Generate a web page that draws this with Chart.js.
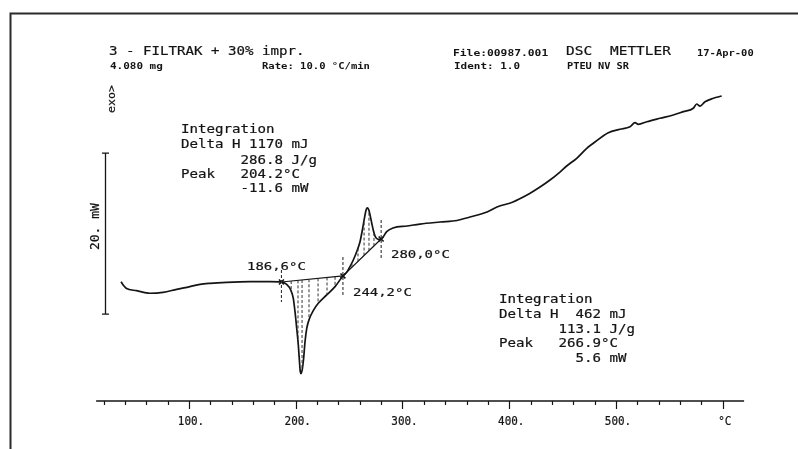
<!DOCTYPE html>
<html>
<head>
<meta charset="utf-8">
<script src="https://cdn.jsdelivr.net/npm/chart.js@4.4.1/dist/chart.umd.min.js"></script>
<style>
  html, body { margin: 0; padding: 0; background: #fff; }
  canvas { display: block; }
</style>
</head>
<body>
<canvas id="dsc" width="798" height="449"></canvas>
<script>
// DSC curve, temperature in degC, heat flow in mW (arbitrary zero)
const tempC = [36.3, 39.1, 41.1, 51.0, 63.5, 75.6, 88.5, 100.9, 110.3, 119.7, 135.3, 157.2, 175.9, 186.6,
  191.5, 195.3, 197.7, 199.3, 200.9, 202.4, 203.5, 204.2, 205.0, 206.2, 207.3, 208.7, 210.3, 212.7, 216.4,
  221.1, 229.0, 236.8, 244.2, 247.7, 250.8, 253.9, 257.7, 260.2, 262.4, 264.3, 265.6, 266.9, 268.3, 269.8,
  271.2, 272.7, 274.5, 277.3, 280.0, 285.2, 291.1, 304.3, 316.4, 335.2, 351.1, 363.2, 379.2, 388.5, 403.5,
  416.6, 428.8, 438.2, 447.5, 453.8, 463.2, 472.6, 478.7, 492.8, 503.7, 513.1, 517.8, 520.9, 528.8, 541.3,
  553.7, 563.0, 572.4, 575.6, 578.7, 583.4, 591.2, 599.0];
const heatFlow = [0.04, -0.5, -0.78, -1.08, -1.4, -1.28, -0.91, -0.58, -0.29, -0.16, -0.04, 0.04, 0.04, 0.0,
  -0.29, -0.99, -2.03, -3.69, -5.75, -7.83, -9.9, -11.1, -11.37, -10.8, -9.6, -7.4, -5.75, -4.6, -3.55,
  -2.65, -1.61, -0.58, 0.75, 1.2, 1.9, 2.73, 3.98, 5.0, 6.46, 7.9, 8.8, 9.2, 9.0, 8.2,
  7.3, 6.4, 5.63, 5.3, 5.34, 6.25, 6.71, 6.96, 7.2, 7.45, 7.64, 8.07, 8.7, 9.32, 9.94,
  10.8, 11.8, 12.67, 13.66, 14.41, 15.37, 16.61, 17.23, 18.55, 18.97, 19.29, 19.79, 19.59, 19.91, 20.34,
  20.75, 21.16, 21.58, 22.11, 21.86, 22.4, 22.82, 23.1];

// integration limits (onset / end points) and their baseline values
const limitT = [186.6, 244.2, 280.0];
const limitY = [0.0, 0.75, 5.34];
const limitTop = [1.49, 3.11, 7.7];
const limitBottom = [-2.48, -1.74, 2.98];

// hatching between baseline and curve
const hatchT = [195.7, 202.1, 205.9, 212.4, 220.9, 229.3, 236.8, 252.7, 258.3, 264.0, 268.6, 273.3];
const hatchBase = [0.12, 0.2, 0.25, 0.34, 0.45, 0.56, 0.65, 1.84, 2.56, 3.29, 3.88, 4.48];
const hatchCurve = [-1.16, -7.4, -11.0, -4.65, -2.68, -1.57, -0.58, 2.4, 4.2, 7.7, 8.85, 6.0];

// x axis
const majorTicks = [100, 200, 300, 400, 500, 600];
const tickLabels = ['100.', '200.', '300.', '400.', '500.', '\u00B0C'];
const scaleBarMw = [-4, 16];   // the "20. mW" bar

const black = '#141414';
const mono = '"DejaVu Sans Mono", "Liberation Mono", monospace';

// draw monospaced text with a given character pitch
function txt(c, s, x, y, size, pitch, bold, rot, align) {
  c.save();
  c.font = (bold ? 'bold ' : '') + size + 'px ' + mono;
  const nat = c.measureText('M').width;
  c.translate(x, y);
  if (rot) c.rotate(rot);
  c.scale(pitch / nat, 1);
  c.textAlign = align || 'left';
  c.fillStyle = black;
  c.fillText(s, 0, 0);
  if (!bold) {
    // plotter pens are a bit heavier than the font
    c.strokeStyle = black;
    c.lineWidth = 0.2;
    c.strokeText(s, 0, 0);
  }
  c.restore();
}

const paper = {
  id: 'paper',
  beforeDraw(chart) {
    const c = chart.ctx;
    c.save();
    c.fillStyle = '#fff';
    c.fillRect(0, 0, chart.width, chart.height);
    c.strokeStyle = '#2a2a2a';
    c.lineWidth = 2;
    c.beginPath();
    c.moveTo(10.5, chart.height);
    c.lineTo(10.5, 13.5);
    c.lineTo(chart.width, 13.5);
    c.stroke();
    c.restore();
  },
  afterDraw(chart) {
    const c = chart.ctx;
    const xs = chart.scales.x, ys = chart.scales.y;
    const axisY = chart.chartArea.bottom - 1;
    c.save();
    c.strokeStyle = black;
    c.lineWidth = 1.5;
    c.beginPath();
    c.moveTo(xs.getPixelForValue(13), axisY);
    c.lineTo(xs.getPixelForValue(620), axisY);
    c.stroke();
    // minor ticks every 20 degC, major every 100
    c.lineWidth = 1.2;
    for (let t = 20; t <= 600; t += 20) {
      const px = Math.round(xs.getPixelForValue(t)) + 0.5;
      const len = majorTicks.includes(t) ? 8 : 4;
      c.beginPath();
      c.moveTo(px, axisY);
      c.lineTo(px, axisY + len);
      c.stroke();
    }
    c.restore();
    majorTicks.forEach((t, i) => {
      txt(c, tickLabels[i], xs.getPixelForValue(t) + 2, axisY + 24, 11.5, 6.6, false, 0, 'center');
    });
    // 20 mW scale bar
    c.save();
    c.strokeStyle = black;
    const bx = 105.5;
    const y0 = ys.getPixelForValue(scaleBarMw[0]), y1 = ys.getPixelForValue(scaleBarMw[1]);
    c.lineWidth = 1.3;
    c.beginPath();
    c.moveTo(bx, y0); c.lineTo(bx, y1);
    c.moveTo(bx - 3.5, y0); c.lineTo(bx + 3.5, y0);
    c.moveTo(bx - 3.5, y1); c.lineTo(bx + 3.5, y1);
    c.stroke();
    c.restore();

    // header
    txt(c, '3 - FILTRAK + 30% impr.', 109, 55, 11.5, 8.5);
    txt(c, '4.080 mg', 110, 68.5, 8.5, 6.6, true);
    txt(c, 'Rate: 10.0 \u00B0C/min', 262, 68.5, 8.5, 6.35, true);
    txt(c, 'File:00987.001', 453, 55.5, 8.5, 6.8, true);
    txt(c, 'DSC', 566, 55, 11.5, 8.7);
    txt(c, 'METTLER', 610, 55, 11.5, 8.7);
    txt(c, '17-Apr-00', 697, 56, 8.5, 6.3, true);
    txt(c, 'Ident: 1.0', 454, 68.5, 8.5, 6.6, true);
    txt(c, 'PTEU NV SR', 567, 68.5, 8.5, 6.2, true);

    // rotated axis notes
    txt(c, 'exo>', 115, 113, 10, 7, false, -Math.PI / 2);
    txt(c, '20. mW', 99, 250, 11.5, 7.8, false, -Math.PI / 2);

    // integration results
    const block1 = ['Integration', 'Delta H 1170 mJ', '       286.8 J/g', 'Peak   204.2\u00B0C', '       -11.6 mW'];
    const base1 = [133, 148, 164, 177.5, 192];
    block1.forEach((s, i) => txt(c, s, 181, base1[i], 11.5, 8.5));
    const block2 = ['Integration', 'Delta H  462 mJ', '       113.1 J/g', 'Peak   266.9\u00B0C', '         5.6 mW'];
    const base2 = [303, 318, 333, 347, 362];
    block2.forEach((s, i) => txt(c, s, 499, base2[i], 11.5, 8.5));

    // limit labels
    txt(c, '186,6\u00B0C', 247, 270, 11, 8.4);
    txt(c, '244,2\u00B0C', 353, 295.5, 11, 8.4);
    txt(c, '280,0\u00B0C', 391, 257.5, 11, 8.4);
  }
};

const datasets = [];

// hatching
hatchT.forEach((t, i) => {
  datasets.push({
    data: [{ x: t, y: hatchBase[i] }, { x: t, y: hatchCurve[i] }],
    borderColor: '#333', borderWidth: 1, borderDash: [3, 2], pointRadius: 0
  });
});
// limit markers
limitT.forEach((t, i) => {
  datasets.push({
    data: [{ x: t, y: limitTop[i] }, { x: t, y: limitBottom[i] }],
    borderColor: '#333', borderWidth: 1.1, borderDash: [3, 2], pointRadius: 0
  });
});
// integration baselines
datasets.push({
  data: limitT.map((t, i) => ({ x: t, y: limitY[i] })),
  borderColor: black, borderWidth: 1.2, tension: 0,
  pointStyle: 'crossRot', pointRadius: 3.5, pointBorderWidth: 1.6, pointBorderColor: black
});
// the DSC curve
datasets.push({
  data: tempC.map((t, i) => ({ x: t, y: heatFlow[i] })),
  borderColor: black, borderWidth: 1.7, pointRadius: 0,
  cubicInterpolationMode: 'monotone'
});

new Chart(document.getElementById('dsc'), {
  type: 'line',
  data: { datasets: datasets },
  options: {
    responsive: false,
    animation: false,
    devicePixelRatio: 1,
    layout: { padding: { left: 95.06, right: 53.9, top: 80, bottom: 47 } },
    plugins: { legend: { display: false }, tooltip: { enabled: false } },
    scales: {
      x: { type: 'linear', min: 12, max: 620, display: false },
      y: { min: -14.907, max: 25.093, display: false }
    }
  },
  plugins: [paper]
});
</script>
</body>
</html>
